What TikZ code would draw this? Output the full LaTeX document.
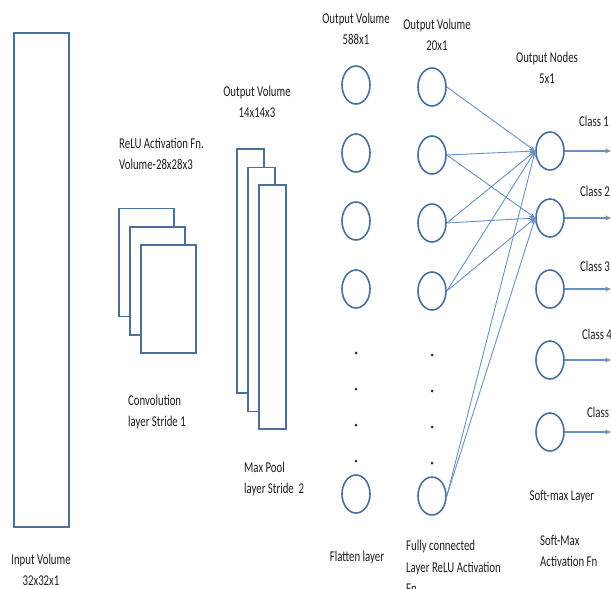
\documentclass[tikz,border=0pt]{standalone}
\usepackage{fontspec}
\setmainfont{Carlito}[FakeStretch=0.72]
\usetikzlibrary{arrows.meta,shapes.geometric}
\definecolor{shapeblue}{RGB}{75,110,155}
\definecolor{linkblue}{RGB}{105,145,195}
\definecolor{dotgrey}{RGB}{45,45,45}
\definecolor{inkgrey}{RGB}{30,30,30}
\begin{document}
\begin{tikzpicture}[x=1pt,y=-1pt,
  every node/.style={inner sep=0pt, text=inkgrey,
    font=\fontsize{15}{21.5}\selectfont},
  layerbox/.style={draw=shapeblue, line width=1.7pt, fill=white},
  neuron/.style={ellipse, draw=shapeblue, line width=1.6pt, fill=white,
    minimum width=28pt, minimum height=38pt},
  gapdot/.style={circle, fill=dotgrey, minimum size=3pt},
  link/.style={draw=linkblue, line width=0.9pt,
    -{Stealth[length=6pt,width=4.5pt]}},
  outlink/.style={draw=linkblue, line width=1.2pt,
    -{Stealth[length=6pt,width=5pt]}},
  caption/.style={align=center},
  leftcaption/.style={align=left, anchor=west}]

\useasboundingbox (0,0) rectangle (611,589);

% input volume
\node[layerbox, minimum width=55pt, minimum height=494pt] (input) at (41.5,280) {};
\node[caption] (inputlbl) at (41,570) {Input Volume\\32x32x1};

% convolution stack
\node[leftcaption] (convtop) at (119,154) {ReLU Activation Fn.\\ Volume-28x28x3};
\node[layerbox, minimum width=55pt, minimum height=108pt] (conv1) at (146.5,262.5) {};
\node[layerbox, minimum width=55pt, minimum height=108pt] (conv2) at (157.5,281) {};
\node[layerbox, minimum width=55pt, minimum height=108pt] (conv3) at (168.5,299) {};
\node[leftcaption] (convlbl) at (128,412) {Convolution\\layer Stride 1};

% max pool stack
\node[caption] (pooltop) at (257,102) {Output Volume\\14x14x3};
\node[layerbox, minimum width=27pt, minimum height=244pt] (pool1) at (250.5,271) {};
\node[layerbox, minimum width=27pt, minimum height=244pt] (pool2) at (261.5,289.5) {};
\node[layerbox, minimum width=27pt, minimum height=244pt] (pool3) at (272.5,307) {};
\node[leftcaption] (poollbl) at (244,479) {Max Pool\\layer Stride~~2};

% flatten layer
\node[caption] (flattop) at (356,29) {Output Volume\\588x1};
\foreach \i/\y in {1/85,2/153,3/221,4/289,5/494}
  \node[neuron] (f\i) at (356,\y) {};
\foreach \i/\y in {1/353,2/389,3/425,4/461}
  \node[gapdot] (fd\i) at (356,\y) {};
\node[caption] (flatlbl) at (357,557) {Flatten layer};

% fully connected layer
\node[caption] (fctop) at (437,35) {Output Volume\\20x1};
\foreach \i/\y in {1/87,2/155,3/223,4/291,5/496}
  \node[neuron] (h\i) at (432,\y) {};
\foreach \i/\y in {1/355,2/391,3/427,4/463}
  \node[gapdot] (hd\i) at (432,\y) {};
\node[leftcaption] (fclbl) at (406,567) {Fully connected\\Layer ReLU Activation\\Fn};

% output nodes
\node[caption] (outtop) at (547,68) {Output Nodes\\5x1};
\foreach \i/\y in {1/151,2/218,3/289,4/360,5/432}
  \node[neuron] (o\i) at (550,\y) {};
\node[caption] (smlbl) at (562,497) {Soft-max Layer};
\node[leftcaption] (smfn) at (540,551) {Soft-Max\\Activation Fn};

% class labels and outgoing arrows
\foreach \i/\y/\lx in {1/121/579,2/191/580,3/266/580,4/334/582,5/412/587}
  \node[anchor=west] (c\i) at (\lx,\y) {Class \i};
\foreach \i/\y in {1/151,2/218,3/289,4/360,5/432}{
  \coordinate (end\i) at (611,\y);
  \draw[outlink] (o\i.east) -- (end\i);
}

% fully connected links into the first two output nodes
\draw[link] (h1.east) -- (o1.west);
\foreach \i in {2,3,4,5}{
  \draw[link] (h\i.east) -- (o1.west);
  \draw[link] (h\i.east) -- (o2.west);
}
\end{tikzpicture}
\end{document}
